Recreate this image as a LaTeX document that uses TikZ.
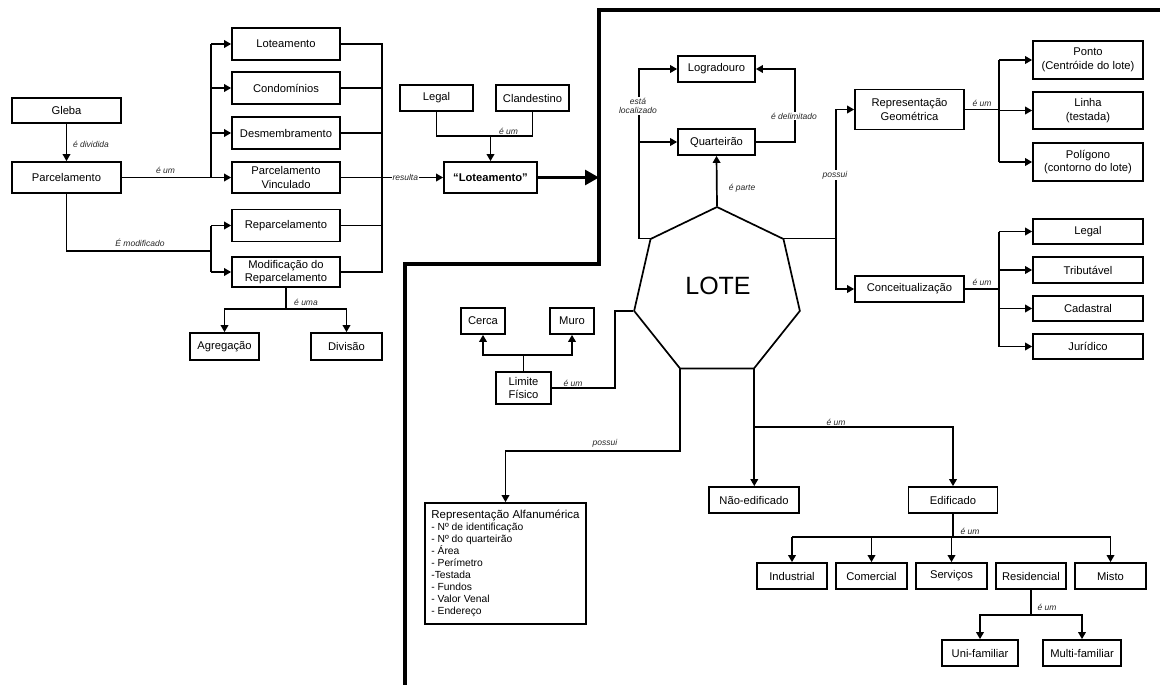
\documentclass[tikz,border=0pt]{standalone}
\usepackage{fontspec}
\setmainfont{Liberation Sans}
\usetikzlibrary{arrows.meta,shapes.geometric}
\begin{document}
\begin{tikzpicture}[x=1pt,y=-1pt,
  box/.style={draw, line width=1.7pt, inner sep=1pt, align=center,
    font=\fontsize{11.2}{13.6}\selectfont},
  wh/.style 2 args={minimum width=#1pt, minimum height=#2pt},
  lbl/.style={font=\fontsize{8.5}{9.5}\selectfont\itshape, inner sep=1pt, text=black!85},
  onln/.style={lbl, fill=white},
  conn/.style={line width=1.7pt},
  arr/.style={conn, -{Triangle[length=7pt,width=7.5pt]}},
  frame/.style={line width=3.4pt}]
\useasboundingbox (0,0) rectangle (1160,685);

% ---------- left: parcelamento ----------
\node[box, wh={109}{25}] (gleba) at (66.5,110.5) {Gleba};
\node[box, wh={109}{31}] (parc) at (66.5,177.5) {Parcelamento};
\node[box, wh={108}{32}] (lot) at (286,44) {Loteamento};
\node[box, wh={108}{32}] (cond) at (286,88) {Condomínios};
\node[box, wh={108}{32}] (desm) at (286,133) {Desmembramento};
\node[box, wh={108}{31}] (pv) at (286,177.5) {Parcelamento\\Vinculado};
\node[box, wh={108}{32}] (repar) at (286,225.5) {Reparcelamento};
\node[box, wh={108}{30}] (modrep) at (286,272) {Modificação do\\Reparcelamento};
\node[box, wh={69}{27}] (agreg) at (224.5,346.5) {Agregação};
\node[box, wh={71}{27}] (divi) at (346.5,346.5) {Divisão};

\draw[arr] (gleba.south) -- (parc.north);
\node[lbl] (ldiv) at (91,144) {é dividida};

\coordinate (b1) at (211,177.5);
\draw[arr] (parc.east) -- (pv.west);
\draw[conn] (b1) -- (b1 |- lot.west);
\draw[arr] (b1 |- lot.west) -- (lot.west);
\draw[arr] (b1 |- cond.west) -- (cond.west);
\draw[arr] (b1 |- desm.west) -- (desm.west);
\node[lbl] (lum1) at (165.5,170) {é um};

\coordinate (b2) at (211,251);
\draw[conn] (parc.south) |- (b2);
\draw[conn] (b2 |- repar.west) -- (b2 |- modrep.west);
\draw[arr] (b2 |- repar.west) -- (repar.west);
\draw[arr] (b2 |- modrep.west) -- (modrep.west);
\node[lbl] (lmod) at (140,243) {É modificado};

\coordinate (c1) at (382,0);
\draw[conn] (lot.east) -- (lot.east -| c1) -- (modrep.east -| c1) -- (modrep.east);
\draw[conn] (cond.east) -- (cond.east -| c1);
\draw[conn] (desm.east) -- (desm.east -| c1);
\draw[conn] (repar.east) -- (repar.east -| c1);

\coordinate (j7) at (286,309);
\draw[conn] (modrep.south) -- (j7);
\draw[arr] (j7) -| (agreg.north);
\draw[arr] (j7) -| (divi.north);
\node[lbl] (luma) at (306,302) {é uma};

% ---------- middle: "Loteamento" ----------
\node[box, wh={73}{26}] (legal) at (436.5,98) {Legal};
\node[box, wh={73}{26}] (cland) at (532.5,98) {Clandestino};
\node[box, wh={93}{31}, font=\fontsize{11.2}{13.6}\selectfont\bfseries] (lotq) at (490.5,177.5) {“Loteamento”};

\draw[arr] (pv.east) -- node[onln, pos=0.63] (lres) {resulta} (lotq.west);
\coordinate (j1) at (490.5,136);
\draw[conn] (legal.south) |- (j1) -| (cland.south);
\draw[arr] (j1) -- (lotq.north);
\node[lbl] (lum2) at (508.5,131) {é um};

\coordinate (f1) at (1165,10);
\coordinate (f2) at (599,10);
\coordinate (f3) at (599,264);
\coordinate (f4) at (405,264);
\coordinate (f5) at (405,690);
\draw[frame] (f1) -- (f2) -- (f3) -- (f4) -- (f5);
\draw[line width=2.8pt, -{Triangle[length=14pt,width=15pt]}] (lotq.east) -- (lotq.east -| f3);

% ---------- right: lote ----------
\node[draw, line width=1.7pt, regular polygon, regular polygon sides=7,
      minimum size=170pt, inner sep=0pt] (lote) at (717,292) {};
\node[font=\fontsize{25}{25}\selectfont] (lotetxt) at (718,286) {LOTE};

\node[box, wh={77}{26}] (logr) at (716.5,69) {Logradouro};
\node[box, wh={77}{26}] (quart) at (716.5,142) {Quarteirão};

\coordinate (v1) at (639,0);
\draw[arr] (lote.corner 2) -- (lote.corner 2 -| v1) -- (v1 |- logr.west) -- (logr.west);
\draw[arr] (v1 |- quart.west) -- (quart.west);
\node[onln, align=center] (lloc) at (638,106) {está\\localizado};

\coordinate (v2) at (795,0);
\draw[arr] (quart.east) -- (quart.east -| v2) -- (v2 |- logr.east) -- (logr.east);
\node[onln] (ldel) at (794,116) {é delimitado};

\draw[arr] (lote.corner 1) -- (quart.south);
\node[lbl] (lpar) at (742,188) {é parte};

\node[box, wh={109}{40}] (repgeo) at (909.5,109.5) {Representação\\Geométrica};
\node[box, wh={109}{26}] (conc) at (909.5,289) {Conceitualização};
\node[box, wh={110}{38}] (ponto) at (1088,60) {Ponto\\(Centróide do lote)};
\node[box, wh={110}{37}] (linha) at (1088,110.5) {Linha\\(testada)};
\node[box, wh={110}{38}] (polig) at (1088,162) {Polígono\\(contorno do lote)};
\node[box, wh={110}{25}] (legal2) at (1088,231.5) {Legal};
\node[box, wh={110}{26}] (trib) at (1088,270) {Tributável};
\node[box, wh={110}{25}] (cad) at (1088,308.5) {Cadastral};
\node[box, wh={110}{25}] (jur) at (1088,346.5) {Jurídico};

\coordinate (v3) at (836,0);
\draw[conn] (lote.corner 7) -- (lote.corner 7 -| v3);
\draw[arr] (lote.corner 7 -| v3) |- (repgeo.west);
\draw[arr] (lote.corner 7 -| v3) |- (conc.west);
\node[onln] (lpos1) at (835,175) {possui};

\coordinate (v4) at (999,0);
\draw[conn] (repgeo.east) -- (repgeo.east -| v4);
\draw[conn] (v4 |- ponto.west) -- (v4 |- polig.west);
\draw[arr] (v4 |- ponto.west) -- (ponto.west);
\draw[arr] (v4 |- linha.west) -- (linha.west);
\draw[arr] (v4 |- polig.west) -- (polig.west);
\node[lbl] (lum3) at (982,103) {é um};

\draw[conn] (conc.east) -- (conc.east -| v4);
\draw[conn] (v4 |- legal2.west) -- (v4 |- jur.west);
\draw[arr] (v4 |- legal2.west) -- (legal2.west);
\draw[arr] (v4 |- trib.west) -- (trib.west);
\draw[arr] (v4 |- cad.west) -- (cad.west);
\draw[arr] (v4 |- jur.west) -- (jur.west);
\node[lbl] (lum4) at (982,282) {é um};

% limite fisico
\node[box, wh={44}{26}] (cerca) at (483,321) {Cerca};
\node[box, wh={44}{26}] (muro) at (572,321) {Muro};
\node[box, wh={55}{32}] (limite) at (523.5,388) {Limite\\Físico};
\coordinate (j2) at (523.5,355);
\draw[conn] (limite.north) -- (j2);
\draw[arr] (j2) -| (cerca.south);
\draw[arr] (j2) -| (muro.south);
\coordinate (v5) at (615,0);
\draw[conn] (lote.corner 3) -- (lote.corner 3 -| v5) |- (limite.east);
\node[lbl] (lum5) at (573,383) {é um};

% representacao alfanumerica
\node[box, wh={161}{121}, align=left, font=\fontsize{10.3}{12}\selectfont] (repalf) at (505.5,563.5)
  {\fontsize{11.5}{13}\selectfont Representação Alfanumérica\\[-0.5pt]
   \fontsize{10.3}{12}\selectfont - Nº de identificação\\
   - Nº do quarteirão\\
   - Área\\
   - Perímetro\\
   -Testada\\
   - Fundos\\
   - Valor Venal\\
   - Endereço};
\coordinate (j3) at (0,451);
\draw[arr] (lote.corner 4) -- (lote.corner 4 |- j3) -| (repalf.north);
\node[lbl] (lpos2) at (605,443) {possui};

% edificado
\node[box, wh={90}{26}] (naoed) at (754,500) {Não-edificado};
\node[box, wh={89}{26}] (edif) at (953,500) {Edificado};
\coordinate (j4) at (0,427);
\draw[arr] (lote.corner 5) -- (lote.corner 5 |- naoed.north);
\draw[arr] (lote.corner 5 |- j4) -| (edif.north);
\node[lbl] (lum6) at (836,422) {é um};

\node[box, wh={70}{26}] (ind) at (792,576) {Industrial};
\node[box, wh={71}{26}] (com) at (871.5,576) {Comercial};
\node[box, wh={71}{26}] (serv) at (951.5,576) {Serviços};
\node[box, wh={70}{26}] (res) at (1031,576) {Residencial};
\node[box, wh={71}{26}] (misto) at (1110.5,576) {Misto};
\coordinate (j5) at (0,537);
\draw[conn] (edif.south) -- (edif.south |- j5);
\draw[conn] (ind.north |- j5) -- (misto.north |- j5);
\draw[arr] (ind.north |- j5) -- (ind.north);
\draw[arr] (com.north |- j5) -- (com.north);
\draw[arr] (serv.north |- j5) -- (serv.north);
\draw[arr] (misto.north |- j5) -- (misto.north);
\node[lbl] (lum7) at (970,531) {é um};

\node[box, wh={76}{26}] (uni) at (980,653) {Uni-familiar};
\node[box, wh={78}{26}] (multi) at (1082,653) {Multi-familiar};
\coordinate (j6) at (0,615);
\draw[conn] (res.south) -- (res.south |- j6);
\draw[arr] (res.south |- j6) -| (uni.north);
\draw[arr] (res.south |- j6) -| (multi.north);
\node[lbl] (lum8) at (1047,607) {é um};
\end{tikzpicture}
\end{document}
